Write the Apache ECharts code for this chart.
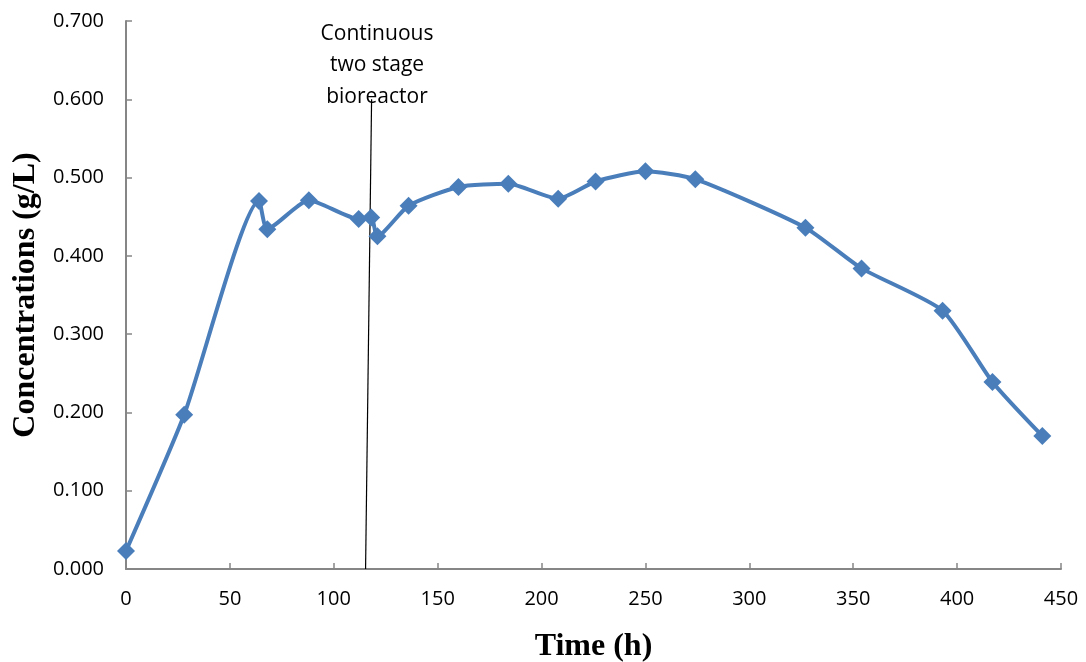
<!DOCTYPE html>
<html>
<head>
<meta charset="utf-8">
<script src="https://cdn.jsdelivr.net/npm/echarts@6/dist/echarts.min.js"></script>
<style>html,body{margin:0;padding:0;background:#fff}#c{width:1086px;height:662px}</style>
</head>
<body>
<div id="c"></div>
<script>
const timeH = [0, 28, 64, 68, 88, 112, 118, 121, 136, 160, 184, 208, 226, 250, 274, 327, 354, 393, 417, 441];
const conc = [0.023, 0.197, 0.470, 0.434, 0.471, 0.447, 0.449, 0.425, 0.464, 0.488, 0.492, 0.473, 0.495, 0.508, 0.498, 0.436, 0.384, 0.330, 0.239, 0.170];
const markerLineX = [115.3, 118.2];
const markerLineY = [0, 0.600];
const annotationText = 'Continuous\ntwo stage\nbioreactor';
const xTitle = 'Time (h)';
const yTitle = 'Concentrations (g/L)';

const chart = echarts.init(document.getElementById('c'), null, {renderer: 'canvas'});
const labelFont = {color: '#000', fontSize: 20, fontFamily: 'Open Sans'};
chart.setOption({
  animation: false,
  grid: {left: 126, right: 25, top: 21, bottom: 93, containLabel: false, outerBoundsMode: 'none'},
  xAxis: {
    type: 'value', min: 0, max: 450, interval: 50,
    name: xTitle, nameLocation: 'middle', nameGap: 62,
    nameTextStyle: {fontFamily: 'Liberation Serif', fontWeight: 'bold', fontSize: 32, color: '#000'},
    axisLine: {lineStyle: {color: '#868686', width: 2}},
    axisTick: {inside: true, length: 6, lineStyle: {color: '#868686', width: 1.5}},
    axisLabel: Object.assign({margin: 20}, labelFont),
    splitLine: {show: false}
  },
  yAxis: {
    type: 'value', min: 0, max: 0.7, interval: 0.1,
    name: yTitle, nameLocation: 'middle', nameGap: 81,
    nameTextStyle: {fontFamily: 'Liberation Serif', fontWeight: 'bold', fontSize: 32, color: '#000'},
    axisLine: {show: true, lineStyle: {color: '#868686', width: 2}},
    axisTick: {show: true, inside: true, length: 6, lineStyle: {color: '#868686', width: 1.5}},
    axisLabel: Object.assign({margin: 22, formatter: v => v.toFixed(3)}, labelFont),
    splitLine: {show: false}
  },
  graphic: [{
    type: 'text', x: 377, y: 18,
    style: {text: annotationText, fill: '#000', font: '21px "Open Sans"', textAlign: 'center', lineHeight: 31.5}
  }],
  series: [{
    type: 'line',
    data: markerLineX.map((x, i) => [x, markerLineY[i]]),
    symbol: 'none', lineStyle: {color: '#000', width: 1.2}, z: 1, silent: true
  }, {
    type: 'line',
    data: timeH.map((t, i) => [t, conc[i]]),
    smooth: 0.2,
    symbol: 'diamond', symbolSize: 18,
    lineStyle: {color: '#4a7ebb', width: 4},
    itemStyle: {color: '#4a7ebb'},
    z: 3
  }]
});
</script>
</body>
</html>
